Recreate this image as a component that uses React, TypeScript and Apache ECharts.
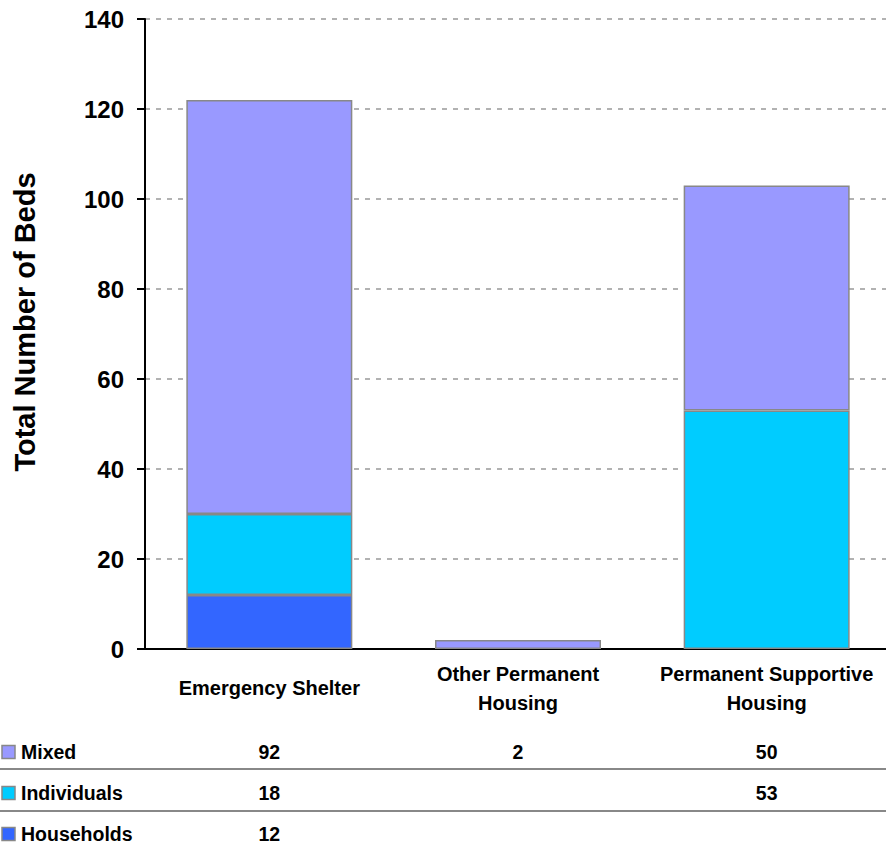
import React, { useEffect, useRef } from "react";
import * as echarts from "echarts";

const categories = ["Emergency Shelter", "Other Permanent\nHousing", "Permanent Supportive\nHousing"];
const seriesNames = ["Households", "Individuals", "Mixed"];
const households: (number | null)[] = [12, null, null];
const individuals: (number | null)[] = [18, null, 53];
const mixed: (number | null)[] = [92, 2, 50];
const colors = ["#3366FF", "#00CCFF", "#9999FF"];
const yMin = 0;
const yMax = 140;
const yInterval = 20;
const yTitle = "Total Number of Beds";

// table rows top to bottom
const tableRows = [
  { name: "Mixed", values: mixed, color: colors[2] },
  { name: "Individuals", values: individuals, color: colors[1] },
  { name: "Households", values: households, color: colors[0] },
];

const FONT = "'Liberation Sans', Arial, sans-serif";

export default function App() {
  const ref = useRef<HTMLDivElement>(null);
  useEffect(() => {
    if (!ref.current) return;
    const chart = echarts.init(ref.current, null, { renderer: "svg" });
    const seriesData = [households, individuals, mixed];
    chart.setOption({
      animation: false,
      textStyle: { fontFamily: FONT },
      grid: { left: 145, top: 19, width: 746, height: 630, containLabel: false },
      xAxis: {
        type: "category",
        data: categories,
        axisLine: { show: true, lineStyle: { color: "#000", width: 2 } },
        axisTick: { show: false },
        axisLabel: {
          interval: 0,
          margin: 39,
          verticalAlign: "middle",
          fontFamily: FONT,
          fontWeight: "bold",
          fontSize: 20,
          lineHeight: 29,
          color: "#000",
        },
      },
      yAxis: {
        type: "value",
        min: yMin,
        max: yMax,
        interval: yInterval,
        axisLine: { show: true, lineStyle: { color: "#000", width: 2 } },
        axisTick: { show: true, length: 8, lineStyle: { color: "#000", width: 2 } },
        axisLabel: { margin: 21, fontFamily: FONT, fontWeight: "bold", fontSize: 24, color: "#000" },
        splitLine: { show: true, lineStyle: { color: "#999", width: 1.5, type: [5, 6] } },
      },
      series: seriesNames.map((n, i) => ({
        name: n,
        type: "bar",
        stack: "total",
        barWidth: 166,
        data: seriesData[i],
        itemStyle: { color: colors[i], borderColor: "#888", borderWidth: 1.5 },
      })),
    });

    const rowY = [752, 793, 834];
    const lineY = [769, 811];
    const elements: any[] = [];
    elements.push({
      type: "text",
      x: 25,
      y: 322,
      rotation: Math.PI / 2,
      style: {
        text: yTitle,
        fontFamily: FONT,
        fontWeight: "bold",
        fontSize: 29,
        fill: "#000",
        align: "center",
        verticalAlign: "middle",
      },
    });
    lineY.forEach((y) => {
      elements.push({
        type: "line",
        shape: { x1: 0, y1: y, x2: 886, y2: y },
        style: { stroke: "#888", lineWidth: 2 },
      });
    });
    tableRows.forEach((row, r) => {
      const y = rowY[r];
      elements.push({
        type: "rect",
        shape: { x: 2, y: y - 6.5, width: 13, height: 13 },
        style: { fill: row.color, stroke: "#888", lineWidth: 1.5 },
      });
      elements.push({
        type: "text",
        x: 21,
        y,
        style: {
          text: row.name,
          fontFamily: FONT,
          fontWeight: "bold",
          fontSize: 19.5,
          fill: "#000",
          align: "left",
          verticalAlign: "middle",
        },
      });
      row.values.forEach((v, c) => {
        if (v == null) return;
        const px = chart.convertToPixel({ xAxisIndex: 0 }, c) as number;
        elements.push({
          type: "text",
          x: px,
          y,
          style: {
            text: String(v),
            fontFamily: FONT,
            fontWeight: "bold",
            fontSize: 19.5,
            fill: "#000",
            align: "center",
            verticalAlign: "middle",
          },
        });
      });
    });
    chart.setOption({ graphic: { elements } });
    return () => chart.dispose();
  }, []);
  return (
    <div style={{ position: "fixed", left: 0, top: 0, width: 886, height: 846, overflow: "hidden", background: "#fff" }}>
      <div ref={ref} style={{ width: 900, height: 846 }} />
    </div>
  );
}
